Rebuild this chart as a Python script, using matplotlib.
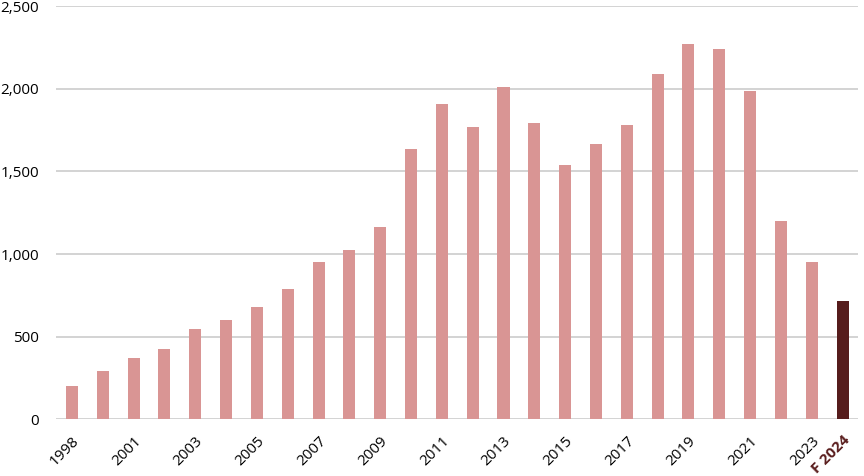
import matplotlib.pyplot as plt
from matplotlib.ticker import FuncFormatter

plt.rcParams['font.family'] = ['Open Sans', 'DejaVu Sans']

years = ['1998', '2000', '2001', '2002', '2003', '2004', '2005', '2006', '2007', '2008',
         '2009', '2010', '2011', '2012', '2013', '2014', '2015', '2016', '2017', '2018',
         '2019', '2020', '2021', '2022', '2023', 'F 2024']
values = [200, 295, 371, 426, 547, 601, 680, 789, 952, 1025,
          1164, 1636, 1909, 1769, 2012, 1794, 1540, 1667, 1782, 2090,
          2272, 2242, 1988, 1200, 952, 716]

bar_color = '#d99594'
forecast_color = '#561c1c'
colors = [bar_color] * (len(values) - 1) + [forecast_color]

fig = plt.figure(figsize=(8.64, 4.76), dpi=100)
ax = fig.add_axes([0.0648, 0.119, 0.9282, 0.868])

x = list(range(len(values)))
ax.bar(x, values, width=0.39, color=colors, zorder=3)

ax.set_ylim(0, 2500)
ax.set_xlim(-0.52, len(values) - 0.5)
ax.set_yticks([0, 500, 1000, 1500, 2000, 2500])
ax.yaxis.set_major_formatter(FuncFormatter(lambda v, p: '{:,.0f}'.format(v)))
ax.grid(axis='y', color='#cccccc', linewidth=1.2, zorder=0)
ax.set_axisbelow(True)
for s in ax.spines.values():
    s.set_visible(False)

# only every other year is labelled
ax.set_xticks(x)
labels = [y if i % 2 == 0 or i == len(years) - 1 else '' for i, y in enumerate(years)]
ax.set_xticklabels(labels, rotation=45, ha='right', rotation_mode='anchor')
ax.tick_params(axis='both', length=0, labelsize=11, colors='#000000')
ax.tick_params(axis='y', pad=12)
ax.tick_params(axis='x', pad=10)
last = ax.get_xticklabels()[-1]
last.set_color('#5a1e1e')
last.set_fontweight('bold')

fig.savefig('out.png', dpi=100)
